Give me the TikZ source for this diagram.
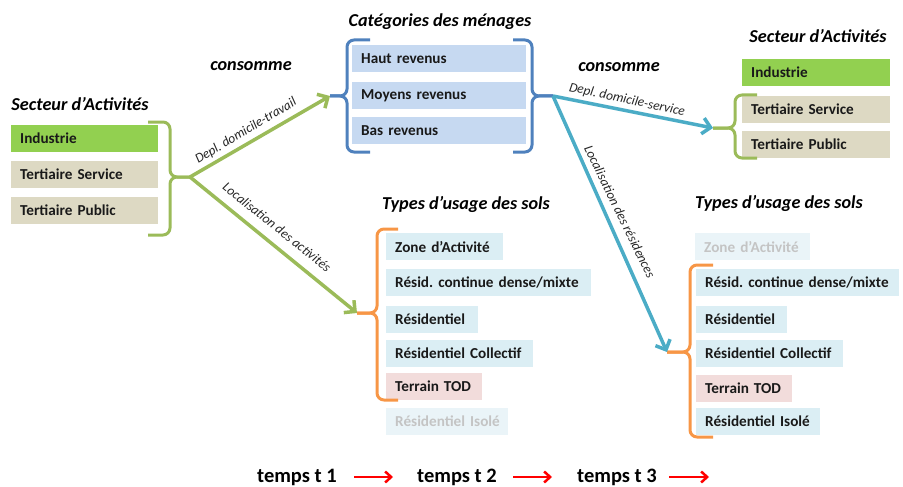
\documentclass[tikz,border=0pt]{standalone}
\usepackage{fontspec}
\setmainfont{Carlito}
\usetikzlibrary{arrows.meta}
\frenchspacing
\hbadness=10000 \hfuzz=50pt
\definecolor{cgreen}{HTML}{92D050}
\definecolor{ctan}{HTML}{DDD9C3}
\definecolor{cblue}{HTML}{C6D9F1}
\definecolor{caqua}{HTML}{DBEEF4}
\definecolor{cpink}{HTML}{F2DCDB}
\definecolor{cfade}{HTML}{EAF4F8}
\definecolor{cfadetxt}{HTML}{C4C4C4}
\definecolor{lgreen}{HTML}{9BBB59}
\definecolor{lblue}{HTML}{4F81BD}
\definecolor{lteal}{HTML}{4BACC6}
\definecolor{lorange}{HTML}{F79646}
\tikzset{
  bx/.style={anchor=north west, inner xsep=9pt, inner ysep=0pt, minimum height=27pt,
    align=left, font=\fontsize{15.2}{17}\selectfont\bfseries, text=black!90},
  ttl/.style={font=\fontsize{18.2}{20}\selectfont\bfseries\itshape},
  lbl/.style={font=\fontsize{13.4}{15}\selectfont\itshape, text=black!85},
  brc/.style={line width=3pt, rounded corners=7pt},
  arr/.style={line width=3.5pt, -{Straight Barb[length=8pt,width=16pt,line width=3.5pt]}},
  tarr/.style={line width=2.5pt, red, -{Straight Barb[length=6pt,width=11pt,line width=2.5pt]}},
  tim/.style={font=\fontsize{20.5}{22}\selectfont\bfseries}
}
\begin{document}
\begin{tikzpicture}[x=1pt,y=-1pt]
\useasboundingbox (0,0) rectangle (903,487);
% ---------- left group
\node[ttl] (t1) at (80,104) {Secteur d’Activités};
\node[bx, fill=cgreen, text width=129pt] (l1) at (11,125) {\mbox{Industrie}};
\node[bx, fill=ctan, text width=129pt] (l2) at (11,161) {\mbox{Tertiaire Service}};
\node[bx, fill=ctan, text width=129pt] (l3) at (11,197) {\mbox{Tertiaire Public}};
\coordinate (gL) at (190,177);
\draw[brc, lgreen] (148,122) -- (170,122) -- (170,177) -- (gL);
\draw[brc, lgreen] (148,235) -- (170,235) -- (170,177) -- (gL);
% ---------- center group
\node[ttl] (t2) at (440,22) {Catégories des ménages};
\node[bx, fill=cblue, text width=156pt] (c1) at (352,45) {\mbox{Haut revenus}};
\node[bx, fill=cblue, text width=156pt] (c2) at (352,82) {\mbox{Moyens revenus}};
\node[bx, fill=cblue, text width=156pt] (c3) at (352,117) {\mbox{Bas revenus}};
\coordinate (bL) at (330,96);
\coordinate (bR) at (553,96);
\draw[brc, lblue] (370,40) -- (347,40) -- (347,96) -- (bL);
\draw[brc, lblue] (370,152) -- (347,152) -- (347,96) -- (bL);
\draw[brc, lblue] (513,40) -- (532,40) -- (532,96) -- (bR);
\draw[brc, lblue] (513,152) -- (532,152) -- (532,96) -- (bR);
% ---------- right upper group
\node[ttl] (t3) at (818,36) {Secteur d’Activités};
\node[bx, fill=cgreen, text width=130pt] (r1) at (742,59) {\mbox{Industrie}};
\node[bx, fill=ctan, text width=130pt] (r2) at (742,96) {\mbox{Tertiaire Service}};
\node[bx, fill=ctan, text width=130pt] (r3) at (742,131) {\mbox{Tertiaire Public}};
\coordinate (gR) at (713,128);
\draw[brc, lgreen] (757,95) -- (735,95) -- (735,128) -- (gR);
\draw[brc, lgreen] (757,158) -- (735,158) -- (735,128) -- (gR);
% ---------- middle lower group
\node[ttl] (t4) at (466,204) {Types d’usage des sols};
\node[bx, fill=caqua, text width=99pt] (m1) at (386,233) {\mbox{Zone d’Activité}};
\node[bx, fill=caqua, text width=187pt] (m2) at (386,269) {\mbox{Résid. continue dense/mixte}};
\node[bx, fill=caqua, text width=74pt] (m3) at (386,306) {\mbox{Résidentiel}};
\node[bx, fill=caqua, text width=129pt] (m4) at (386,340) {\mbox{Résidentiel Collectif}};
\node[bx, fill=cpink, text width=78pt] (m5) at (386,373) {\mbox{Terrain TOD}};
\node[bx, fill=cfade, text=cfadetxt, text width=104pt] (m6) at (386,408) {\mbox{Résidentiel Isolé}};
\coordinate (oM) at (357,313);
\draw[brc, lorange] (398,229) -- (377,229) -- (377,313) -- (oM);
\draw[brc, lorange] (398,400) -- (377,400) -- (377,313) -- (oM);
% ---------- right lower group
\node[ttl] (t5) at (779,203) {Types d’usage des sols};
\node[bx, fill=cfade, text=cfadetxt, text width=97pt] (n1) at (695,233) {\mbox{Zone d’Activité}};
\node[bx, fill=caqua, text width=185pt] (n2) at (696,269) {\mbox{Résid. continue dense/mixte}};
\node[bx, fill=caqua, text width=73pt] (n3) at (696,306) {\mbox{Résidentiel}};
\node[bx, fill=caqua, text width=129pt] (n4) at (696,340) {\mbox{Résidentiel Collectif}};
\node[bx, fill=cpink, text width=78pt] (n5) at (696,375) {\mbox{Terrain TOD}};
\node[bx, fill=caqua, text width=106pt] (n6) at (696,408) {\mbox{Résidentiel Isolé}};
\coordinate (oR) at (667,352);
\draw[brc, lorange] (713,265) -- (690,265) -- (690,352) -- (oR);
\draw[brc, lorange] (713,437) -- (690,437) -- (690,352) -- (oR);
% ---------- arrows
\draw[arr, lgreen] (gL) -- (bL);
\draw[arr, lgreen] (gL) -- (oM);
\draw[arr, lteal] (bR) -- (gR);
\draw[arr, lteal] (bR) -- (oR);
% ---------- labels
\node[ttl] (k1) at (251,66) {consomme};
\node[ttl] (k2) at (619,67) {consomme};
\node[lbl, rotate=31] (a1) at (246,131) {Depl. domicile-travail};
\node[lbl, rotate=-38.5] (a2) at (277,227) {Localisation des activités};
\node[lbl, rotate=-12] (a3) at (627,100) {Depl. domicile-service};
\node[lbl, rotate=-64] (a4) at (620,212) {Localisation des résidences};
% ---------- time line
\node[tim] (s1) at (297,477) {temps t 1};
\node[tim] (s2) at (457,477) {temps t 2};
\node[tim] (s3) at (617,477) {temps t 3};
\coordinate (p1) at (354,477);
\coordinate (q1) at (393,477);
\coordinate (p2) at (513,477);
\coordinate (q2) at (552,477);
\coordinate (p3) at (669,477);
\coordinate (q3) at (709,477);
\draw[tarr] (p1) -- (q1);
\draw[tarr] (p2) -- (q2);
\draw[tarr] (p3) -- (q3);
\end{tikzpicture}
\end{document}
